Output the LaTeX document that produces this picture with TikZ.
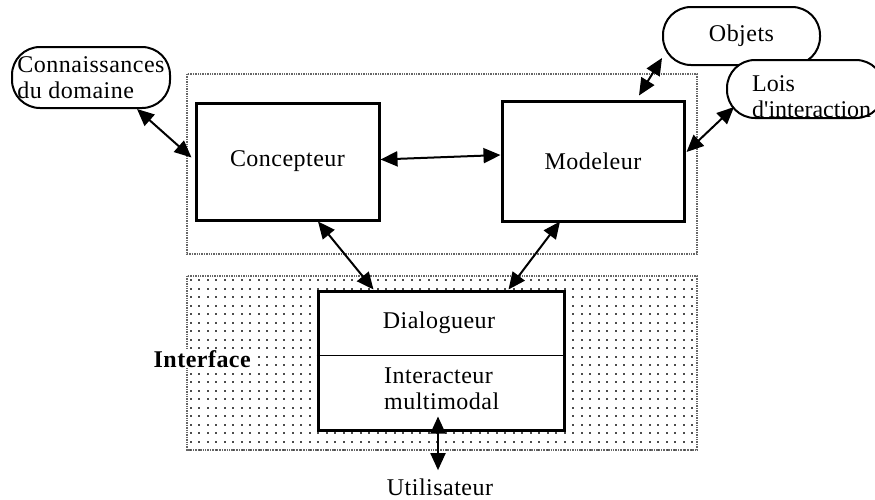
\documentclass[tikz,border=0pt]{standalone}
\usepackage{fontspec}
\setmainfont{Liberation Serif}[LetterSpace=2, Ligatures=TeXOff]
\newfontfamily\loisfont{Liberation Serif}[Ligatures=TeXOff]
\usetikzlibrary{arrows.meta,calc}
\tikzset{
  box/.style={draw, line width=3pt, fill=white, inner sep=0pt},
  pill/.style={draw, line width=2pt, rounded corners=28pt, fill=white, inner sep=0pt},
  link/.style={line width=2pt, {Triangle[length=17pt,width=15pt]}-{Triangle[length=17pt,width=15pt]}},
  frame/.style={draw=black!60, line width=1.4pt, densely dotted},
  txt/.style={font=\fontsize{24}{26}\selectfont, align=left, inner sep=0pt},
  dotfill/.style={fill=black!70},
}
\begin{document}
\begin{tikzpicture}[x=1pt,y=-1pt]
\useasboundingbox (0,0) rectangle (875,499);
\clip (0,0) rectangle (875,499);
\fill[white] (0,0) rectangle (875,499);

% frames
\draw[frame] (187,74) rectangle (697,254);
\begin{scope}
  \clip (187,276) rectangle (697,450);
  \foreach \j in {0,...,20} {
    \foreach \i in {0,...,60} {
      \fill[dotfill] (189.5+8.5*\i, 279+8.5*\j) rectangle ++(2.2,2.2);
    }
  }
\end{scope}
\draw[frame] (187,276) rectangle (697,450);

% external entities
\node[pill, txt, minimum width=158pt, minimum height=61pt] (conn) at (91,77.5) {Connaissances\\du domaine};
\node[pill, txt, minimum width=157pt, minimum height=58pt] (obj) at (741.5,36) {Objets};
\node[pill, minimum width=157pt, minimum height=58pt] (lois) at (805.5,89) {};
\node[txt, font=\fontsize{24}{26}\loisfont, anchor=north west] (loistxt) at (752,75) {Lois\\d'interaction};

% main boxes
\node[box, txt, minimum width=183pt, minimum height=117pt] (conc) at (287.5,161.5) {Concepteur};
\node[box, txt, minimum width=182pt, minimum height=120pt] (mod) at (593,161) {Modeleur};
\node[box, minimum width=246pt, minimum height=139pt] (dial) at (441,360.5) {};
\draw[line width=1.4pt] ($(dial.north west)+(0,66)$) -- ($(dial.north east)+(0,66)$);
\node[txt, anchor=base] (dialtxt) at (439,328) {Dialogueur};
\node[txt, anchor=north west] (inter) at (384,368) {Interacteur\\multimodal};

% labels
\node[txt, font=\fontsize{24}{26}\selectfont\bfseries, fill=white, inner sep=1pt, anchor=base east] (iface) at (252,367) {Interface};
\node[txt, anchor=base] (util) at (440,495) {Utilisateur};

% connectors
\draw[link] ($(conn.south west)+(126,0)$) -- ($(conc.west)+(-3,-4)$);
\draw[link] ($(conc.east)+(0,-2)$) -- ($(mod.west)+(0,-6)$);
\draw[link] ($(mod.north)+(46,-4)$) -- ($(obj.south west)+(0,-8)$);
\draw[link] ($(mod.east)+(1,-9)$) -- ($(lois.west)+(8,18)$);
\draw[link] ($(conc.south)+(30.5,0)$) -- ($(dial.north west)+(57,0)$);
\draw[link] ($(mod.south)+(-33,-1)$) -- ($(dial.north east)+(-57,0)$);
\draw[link] ($(dial.south)+(-3,-15)$) -- ($(util.north)+(-2,-8)$);
\end{tikzpicture}
\end{document}
